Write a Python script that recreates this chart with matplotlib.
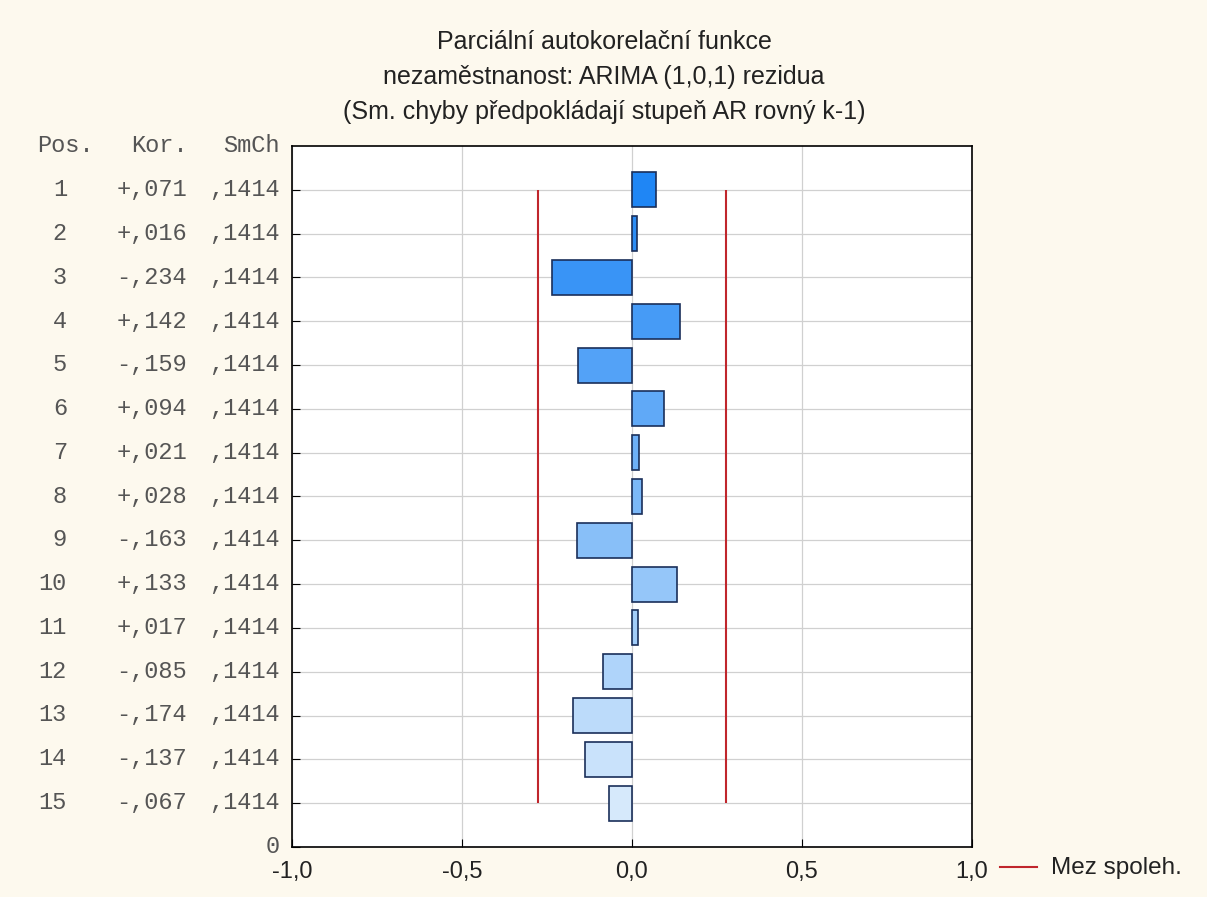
import matplotlib.pyplot as plt
import matplotlib.colors as mcolors

# data
lags = list(range(1, 16))
pacf = [0.071, 0.016, -0.234, 0.142, -0.159, 0.094, 0.021, 0.028,
        -0.163, 0.133, 0.017, -0.085, -0.174, -0.137, -0.067]
se = [0.1414] * 15
limit = 0.277
xticks = [-1.0, -0.5, 0.0, 0.5, 1.0]
xtick_labels = ['-1,0', '-0,5', '0,0', '0,5', '1,0']

bg = '#fdf9ee'
fig = plt.figure(figsize=(12.07, 8.97), dpi=100, facecolor=bg)
ax = fig.add_axes([292 / 1207, 1 - 847 / 897, 680 / 1207, 701 / 897])
ax.set_facecolor('white')

# bar colours go from strong blue to pale blue
cmap = mcolors.LinearSegmentedColormap.from_list('b', ['#1f86f5', '#d6e9fb'])
cols = [cmap(i / (len(lags) - 1)) for i in range(len(lags))]

ax.barh(lags, pacf, height=0.8, color=cols, edgecolor='#1a2f5a', linewidth=1.2, zorder=3)
ax.vlines([-limit, limit], lags[0], lags[-1], color='#c0262c', linewidth=1.5, zorder=4)

ax.set_xlim(-1, 1)
ax.set_ylim(16, 0)
ax.set_xticks(xticks)
ax.set_xticklabels(xtick_labels, fontsize=17, family='Liberation Sans', color='#222222')
ax.set_yticks(lags + [16])
ax.set_yticklabels([])
ax.tick_params(axis='both', direction='in', length=6, color='black')
ax.tick_params(axis='x', pad=10)
ax.grid(True, color='#d0d0d0', linewidth=0.9, zorder=0)
for s in ax.spines.values():
    s.set_color('black')
    s.set_linewidth(1.2)

# table on the left
mono = 'Liberation Mono'
tcol = '#555555'
fs = 17


def fy(lag):
    return 1 - (146 + lag * 43.75) / 897


fig.text(37 / 1207, fy(0), 'Pos.', family=mono, fontsize=fs, color=tcol, va='center')
fig.text(188 / 1207, fy(0), 'Kor.', family=mono, fontsize=fs, color=tcol, va='center', ha='right')
fig.text(280 / 1207, fy(0), 'SmCh', family=mono, fontsize=fs, color=tcol, va='center', ha='right')
for lag, r, e in zip(lags, pacf, se):
    sign = '+' if r >= 0 else '-'
    kor = sign + ('%.3f' % abs(r)).lstrip('0').replace('.', ',')
    sm = ('%.4f' % e).lstrip('0').replace('.', ',')
    fig.text(67 / 1207, fy(lag), str(lag), family=mono, fontsize=fs, color=tcol, va='center', ha='right')
    fig.text(187 / 1207, fy(lag), kor, family=mono, fontsize=fs, color=tcol, va='center', ha='right')
    fig.text(280 / 1207, fy(lag), sm, family=mono, fontsize=fs, color=tcol, va='center', ha='right')
fig.text(280 / 1207, fy(16), '0', family=mono, fontsize=fs, color=tcol, va='center', ha='right')

# title, centred on the figure
title = ['Parciální autokorelační funkce',
         'nezaměstnanost: ARIMA (1,0,1) rezidua',
         '(Sm. chyby předpokládají stupeň AR rovný k-1)']
for i, t in enumerate(title):
    fig.text(604 / 1207, 1 - (42 + i * 35) / 897, t, family='Liberation Sans',
             fontsize=18, color='#222222', ha='center', va='center')

# legend
fig.add_artist(plt.Line2D([1000 / 1207, 1037 / 1207], [1 - 867 / 897] * 2,
                          color='#c0262c', linewidth=1.5))
fig.text(1051 / 1207, 1 - 868 / 897, 'Mez spoleh.', family='Liberation Sans',
         fontsize=17.5, color='#222222', va='center')

plt.savefig('out.png', facecolor=bg)
